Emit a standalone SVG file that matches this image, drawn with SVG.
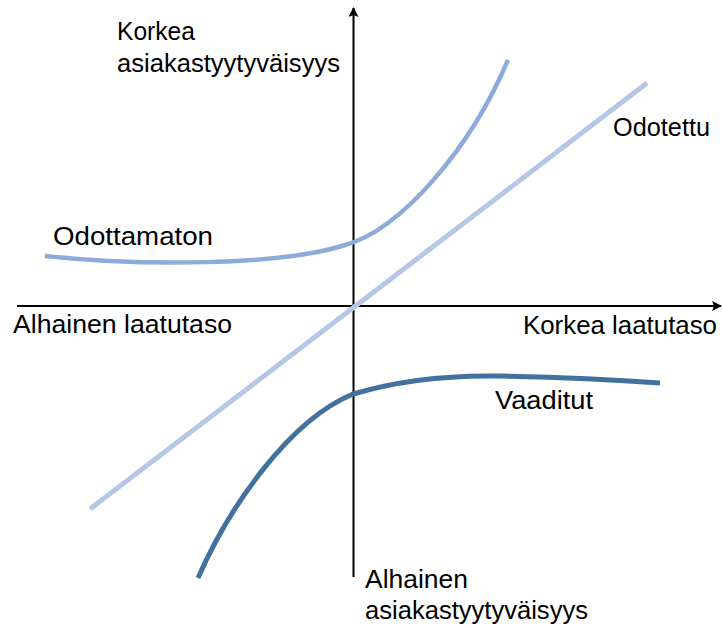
<svg xmlns="http://www.w3.org/2000/svg" width="723" height="628" viewBox="0 0 723 628">
  <style>
    .lbl { font-family: "Liberation Sans", Arial, sans-serif; font-size: 25px; fill: #000; }
    .axis { stroke: #000; stroke-width: 2; fill: none; }
    .curve { fill: none; stroke-linecap: butt; }
  </style>
  <defs>
    <marker id="arrow" viewBox="0 0 10 10" refX="9" refY="5" markerWidth="10" markerHeight="10" markerUnits="userSpaceOnUse" orient="auto">
      <path d="M0,0 L10,5 L0,10 L2,5 Z" fill="#000"/>
    </marker>
  </defs>
  <rect width="723" height="628" fill="#fff"/>

  <g id="axes">
    <line class="axis" x1="17" y1="306" x2="721" y2="306" marker-end="url(#arrow)"/>
    <line class="axis" x1="353.5" y1="577" x2="353.5" y2="8" marker-end="url(#arrow)"/>
  </g>

  <g id="curves">
    <line id="odotettu-line" class="curve" x1="90" y1="509" x2="647" y2="83" stroke="#b4c7e7" stroke-width="5"/>
    <path id="odottamaton-curve" class="curve" d="M45,256 C140,266 280,266 345,245 C400,230 470,150 508,60" stroke="#8eaadb" stroke-width="4.5"/>
    <path id="vaaditut-curve" class="curve" d="M198,578 C230,505 290,420 353,394 C400,380 450,375 500,376 C560,377 620,380 660,383" stroke="#41719c" stroke-width="5"/>
  </g>

  <g id="labels">
    <text class="lbl" x="117" y="40" textLength="78" lengthAdjust="spacingAndGlyphs">Korkea</text>
    <text class="lbl" x="117" y="72" textLength="223" lengthAdjust="spacingAndGlyphs">asiakastyytyväisyys</text>
    <text class="lbl" x="53" y="245" textLength="160" lengthAdjust="spacingAndGlyphs">Odottamaton</text>
    <text class="lbl" x="613" y="136" textLength="97" lengthAdjust="spacingAndGlyphs">Odotettu</text>
    <text class="lbl" x="13" y="333" textLength="219" lengthAdjust="spacingAndGlyphs">Alhainen laatutaso</text>
    <text class="lbl" x="523" y="334" textLength="194" lengthAdjust="spacingAndGlyphs">Korkea laatutaso</text>
    <text class="lbl" x="495" y="409" textLength="98" lengthAdjust="spacingAndGlyphs">Vaaditut</text>
    <text class="lbl" x="365" y="588" textLength="103" lengthAdjust="spacingAndGlyphs">Alhainen</text>
    <text class="lbl" x="365" y="619" textLength="223" lengthAdjust="spacingAndGlyphs">asiakastyytyväisyys</text>
  </g>
</svg>
